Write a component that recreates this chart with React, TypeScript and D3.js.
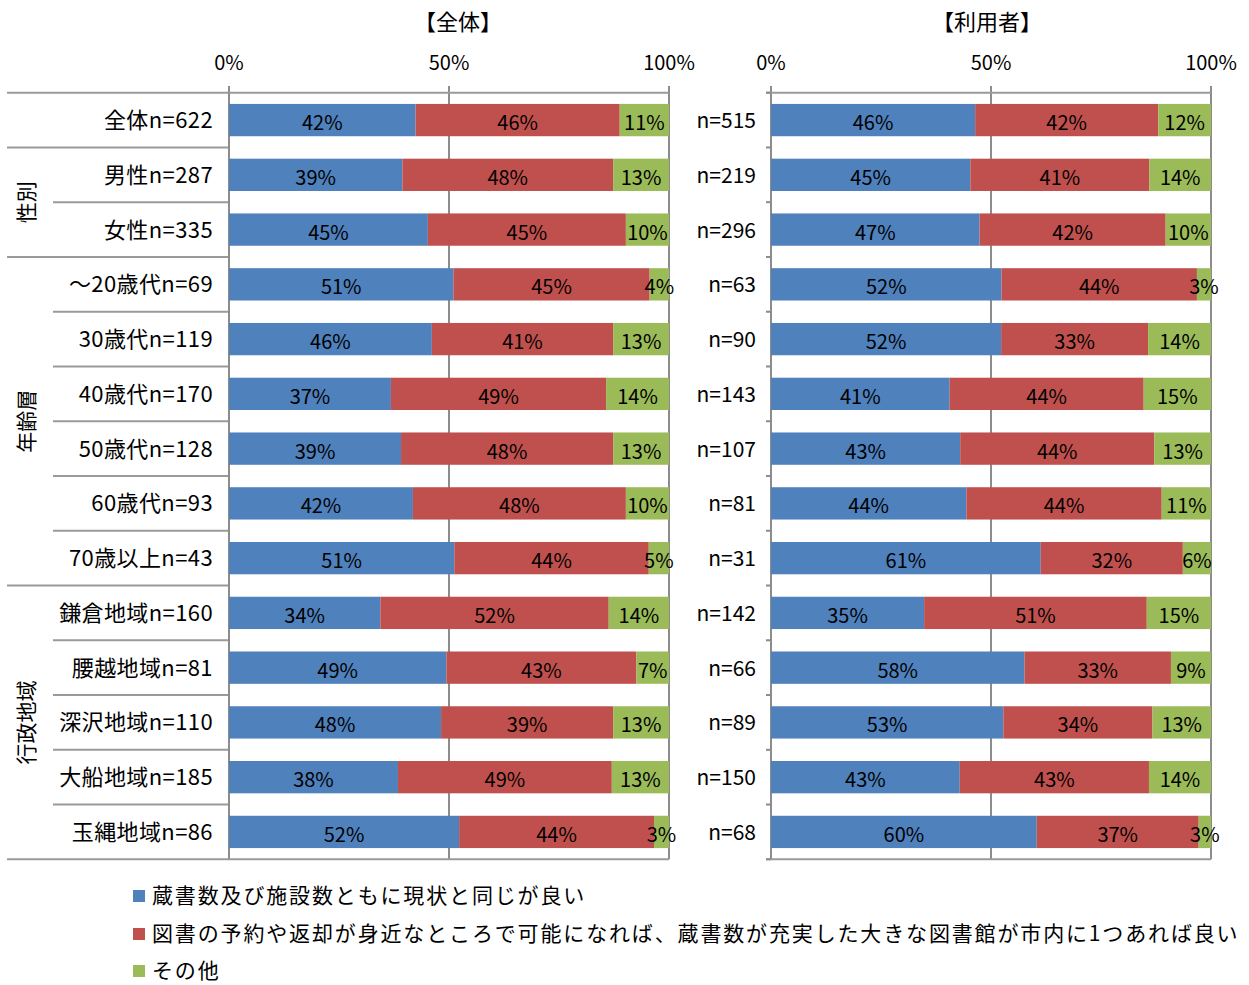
import React from 'react';
import * as d3 from 'd3';

const categories = ['全体n=622', '男性n=287', '女性n=335', '～20歳代n=69', '30歳代n=119', '40歳代n=170', '50歳代n=128', '60歳代n=93', '70歳以上n=43', '鎌倉地域n=160', '腰越地域n=81', '深沢地域n=110', '大船地域n=185', '玉縄地域n=86'];
const userN = ['n=515', 'n=219', 'n=296', 'n=63', 'n=90', 'n=143', 'n=107', 'n=81', 'n=31', 'n=142', 'n=66', 'n=89', 'n=150', 'n=68'];

const allBlue = [42.4, 39.4, 45.2, 51.0, 46.1, 36.8, 39.1, 41.8, 51.2, 34.4, 49.4, 48.2, 38.4, 52.3];
const allRed = [46.4, 47.9, 45.0, 44.6, 41.2, 48.9, 48.2, 48.4, 44.2, 51.9, 43.2, 39.1, 48.6, 44.3];
const allGreen = [11.2, 12.7, 9.8, 4.4, 12.7, 14.3, 12.7, 9.8, 4.6, 13.7, 7.4, 12.7, 13.0, 3.4];

const userBlue = [46.4, 45.3, 47.4, 52.4, 52.3, 40.6, 43.0, 44.4, 61.3, 34.8, 57.6, 52.8, 42.9, 60.4];
const userRed = [41.6, 40.7, 42.3, 44.4, 33.4, 44.1, 44.1, 44.4, 32.3, 50.6, 33.3, 33.9, 43.0, 36.8];
const userGreen = [12.0, 14.0, 10.3, 3.2, 14.3, 15.3, 12.9, 11.2, 6.4, 14.6, 9.1, 13.3, 14.1, 2.8];

const seriesNames = ['蔵書数及び施設数ともに現状と同じが良い', '図書の予約や返却が身近なところで可能になれば、蔵書数が充実した大きな図書館が市内に1つあれば良い', 'その他'];
const seriesColors = ['#4F81BD', '#C0504D', '#9BBB59'];
const tickValues = [0, 50, 100];
const panelTitles = ['【全体】', '【利用者】'];

const groupLabels = ['性別', '年齢層', '行政地域'];
const groupStart = [1, 3, 9];
const groupEnd = [2, 8, 13];

const FONT = '"Noto Sans CJK JP", "Noto Sans", sans-serif';
const W = 1249;
const H = 985;
const TOP = 92.7;
const BOTTOM = 859.3;
const LINE = '#9a9a9a';

type Panel = { x0: number; x1: number; data: number[][]; title: string; titleX: number; labels: string[]; labelX: number; labelSize: number; labelSpacing: number; };

export default function App() {
  const y = d3.scaleBand<number>().domain(d3.range(categories.length)).range([TOP, BOTTOM]).padding(0);
  const step = y.step();
  const barH = step * 0.59;
  const groupBoundaries = new Set<number>([0, 1, 3, 9, 14]);

  const panels: Panel[] = [
    { x0: 229, x1: 669, data: [allBlue, allRed, allGreen], title: panelTitles[0], titleX: 458, labels: categories, labelX: 213, labelSize: 22, labelSpacing: 0.4 },
    { x0: 771, x1: 1211, data: [userBlue, userRed, userGreen], title: panelTitles[1], titleX: 987, labels: userN, labelX: 756, labelSize: 21, labelSpacing: 0 },
  ];
  const legendY = [896, 934, 971];

  return (
    <svg width={W} height={H} style={{ position: 'absolute', left: 0, top: 0, background: '#fff' }} fontFamily={FONT}>
      {d3.range(categories.length + 1).map((i) => {
        const yy = TOP + i * step;
        const xs = groupBoundaries.has(i) ? 7 : 53;
        return <line key={'tl' + i} x1={xs} x2={229} y1={yy} y2={yy} stroke={LINE} strokeWidth={2} />;
      })}
      {groupLabels.map((g, gi) => {
        const cy = TOP + ((groupStart[gi] + groupEnd[gi] + 1) / 2) * step;
        return (
          <text key={'g' + gi} transform={`translate(25,${cy}) rotate(-90)`} textAnchor="middle" dominantBaseline="central" fontSize={21} fill="#000">{g}</text>
        );
      })}
      {panels.map((p, pi) => {
        const x = d3.scaleLinear().domain([0, 100]).range([p.x0, p.x1]);
        const stack: { x: number; w: number; v: number; s: number; r: number }[] = [];
        p.data[0].forEach((_, r) => {
          let acc = 0;
          p.data.forEach((series, s) => {
            const v = series[r];
            stack.push({ x: x(acc), w: x(acc + v) - x(acc), v, s, r });
            acc += v;
          });
        });
        return (
          <g key={'p' + pi}>
            <text x={p.titleX} y={30} textAnchor="middle" fontSize={22} fill="#000">{p.title}</text>
            {tickValues.map((t) => (
              <text key={'tk' + t} x={x(t)} y={70} textAnchor="middle" fontSize={20} fill="#000">{t + '%'}</text>
            ))}
            {tickValues.map((t) => (
              <line key={'gl' + t} x1={x(t)} x2={x(t)} y1={86} y2={BOTTOM} stroke="#8c8c8c" strokeWidth={2} />
            ))}
            <line x1={pi === 1 ? p.x0 - 5 : p.x0} x2={p.x1} y1={TOP} y2={TOP} stroke={LINE} strokeWidth={2} />
            <line x1={pi === 1 ? p.x0 - 5 : p.x0} x2={p.x1} y1={BOTTOM} y2={BOTTOM} stroke={LINE} strokeWidth={2} />
            {pi === 1 && d3.range(categories.length + 1).map((i) => (
              <line key={'ct' + i} x1={p.x0 - 5} x2={p.x0} y1={TOP + i * step} y2={TOP + i * step} stroke="#8c8c8c" strokeWidth={2} />
            ))}
            {stack.map((d, i) => (
              <rect key={'b' + i} x={d.x} y={(y(d.r) as number) + (step - barH) / 2} width={d.w} height={barH} fill={seriesColors[d.s]} />
            ))}
            {stack.map((d, i) => (
              <text key={'bl' + i} x={d.x + d.w / 2} y={(y(d.r) as number) + step / 2 + 10} textAnchor="middle" fontSize={20} fill="#000">{Math.round(d.v) + '%'}</text>
            ))}
            {p.labels.map((l, i) => (
              <text key={'cl' + i} x={p.labelX} y={(y(i) as number) + step / 2 + 8} textAnchor="end" fontSize={p.labelSize} letterSpacing={p.labelSpacing} fill="#000">{l}</text>
            ))}
          </g>
        );
      })}
      {seriesNames.map((n, i) => {
        const cy = legendY[i];
        return (
          <g key={'lg' + i}>
            <rect x={133} y={cy - 6} width={12} height={12} fill={seriesColors[i]} />
            <text x={152} y={cy + 7} fontSize={21} letterSpacing={1.85} fill="#000">{n}</text>
          </g>
        );
      })}
    </svg>
  );
}
